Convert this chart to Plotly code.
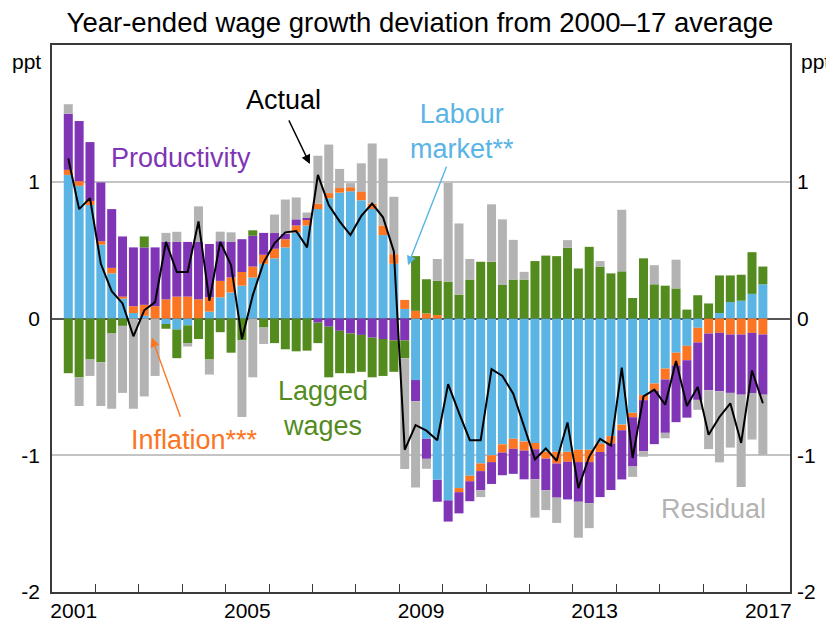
import plotly.graph_objects as go

# ---------------- data (quarterly, 2001Q2 .. 2017Q2) ----------------
quarters = [f"{y}Q{q}" for y in range(2001, 2018) for q in range(1, 5)][1:66]

labour_market = [1.05, 0.97, 0.83, 0.54, 0.33, 0.145, 0.04, 0.02, 0.0, -0.04,
                 -0.08, -0.05, 0.0, 0.05, 0.155, 0.19, 0.24, 0.30, 0.40, 0.44,
                 0.52, 0.63, 0.68, 0.80, 0.88, 0.92, 0.93, 0.865, 0.80, 0.61,
                 0.40, 0.07, -0.45, -0.88, -1.18, -1.33, -1.24, -1.15, -1.06, -1.00,
                 -0.92, -0.88, -0.90, -0.91, -0.975, -0.975, -0.975, -0.96, -0.96, -0.915,
                 -0.86, -0.776, -0.69, -0.56, -0.475, -0.366, -0.25, -0.20, -0.068, 0.0,
                 0.04, 0.12, 0.13, 0.18, 0.25]

inflation = [0.037, 0.034, 0.03, 0.025, 0.04, 0.015, 0.05, 0.08, 0.09, 0.14,
             0.16, 0.16, 0.14, 0.105, 0.12, 0.11, 0.10, 0.08, 0.066, 0.07,
             0.06, 0.05, 0.045, 0.04, 0.037, 0.034, 0.03, 0.06, 0.04, 0.07,
             0.07, 0.066, 0.056, 0.037, 0.025, 0.0, -0.03, -0.04, -0.056, -0.05,
             -0.06, -0.073, -0.066, -0.046, -0.05, -0.085, -0.073, -0.09, -0.09, -0.061,
             -0.054, -0.041, -0.032, -0.037, -0.054, -0.08, -0.093, -0.105, -0.107, -0.11,
             -0.105, -0.117, -0.117, -0.105, -0.117]

productivity = [0.41, 0.44, 0.43, 0.43, 0.43, 0.44, 0.43, 0.42, 0.43, 0.42,
                0.40, 0.40, 0.42, 0.39, 0.29, 0.26, 0.24, 0.225, 0.16, 0.115,
                0.04, 0.045, 0.01, -0.03, -0.06, -0.09, -0.11, -0.12, -0.14, -0.15,
                -0.16, -0.16, -0.155, -0.146, -0.16, -0.155, -0.155, -0.146, -0.14, -0.16,
                -0.166, -0.183, -0.21, -0.22, -0.23, -0.25, -0.275, -0.29, -0.30, -0.33,
                -0.34, -0.36, -0.36, -0.373, -0.39, -0.39, -0.415, -0.42, -0.42, -0.415,
                -0.427, -0.427, -0.44, -0.44, -0.44]

lagged_wages = [-0.40, -0.43, -0.30, -0.32, -0.11, -0.054, 0.0, 0.08, 0.0, -0.035,
                -0.21, -0.13, -0.15, -0.30, -0.10, -0.25, -0.16, 0.04, -0.066, -0.18,
                -0.225, -0.24, -0.235, -0.15, -0.37, -0.31, -0.29, -0.27, -0.29, -0.27,
                -0.23, -0.13, 0.40, 0.25, 0.25, 0.27, 0.175, 0.285, 0.415, 0.415,
                0.245, 0.285, 0.285, 0.42, 0.46, 0.456, 0.517, 0.366, 0.524, 0.38,
                0.33, 0.345, 0.15, 0.44, 0.25, 0.24, 0.22, 0.065, 0.17, 0.11,
                0.275, 0.195, 0.19, 0.305, 0.13]

residual = [0.07, -0.21, -0.12, -0.32, -0.55, -0.49, -0.66, -0.57, -0.42, 0.066,
            0.074, -0.025, 0.26, -0.11, 0.07, 0.07, -0.56, -0.43, -0.12, 0.135,
            0.25, 0.16, 0.04, 0.35, 0.355, 0.14, 0.03, 0.21, 0.44, 0.49,
            0.42, -0.81, -0.63, -0.073, 0.16, 0.72, 0.52, 0.15, -0.05, 0.42,
            0.48, 0.29, 0.056, -0.28, -0.146, -0.185, 0.056, -0.263, -0.183, 0.04,
            0.0, 0.45, -0.076, -0.041, 0.14, -0.04, 0.21, 0.0, -0.073, -0.43,
            -0.52, -0.40, -0.675, -0.34, -0.44]

actual = [1.17, 0.80, 0.88, 0.40, 0.20, 0.11, -0.13, 0.06, 0.12, 0.56,
          0.34, 0.34, 0.71, 0.13, 0.56, 0.39, -0.15, 0.17, 0.41, 0.55,
          0.63, 0.64, 0.52, 1.05, 0.83, 0.71, 0.61, 0.75, 0.84, 0.74,
          0.49, -0.96, -0.78, -0.82, -0.89, -0.48, -0.69, -0.89, -0.89, -0.37,
          -0.42, -0.55, -0.79, -1.03, -0.95, -1.04, -0.76, -1.24, -1.01, -0.88,
          -0.93, -0.36, -1.02, -0.57, -0.52, -0.63, -0.31, -0.64, -0.50, -0.85,
          -0.72, -0.62, -0.91, -0.38, -0.62]

year_labels = ["2001", "2005", "2009", "2013", "2017"]
year_ticks = list(range(2002, 2018))
y_ticks = [-2, -1, 0, 1]
title_text = "Year-ended wage growth deviation from 2000\u201317 average"

# ---------------- styling ----------------
FONT = "Liberation Sans, Arial, sans-serif"
C_BLUE = "#5ab4e4"
C_ORANGE = "#fb7522"
C_PURPLE = "#7f35b5"
C_GREEN = "#538b1e"
C_GREY = "#b3b3b3"
AX = "#3a3a3a"
TICK_SIZE = 21
LABEL_SIZE = 27

# quarter centre positions on a numeric year axis
xpos = [int(q[:4]) + (int(q[-1]) - 0.5) / 4 for q in quarters]

fig = go.Figure()
series = [("Labour market", labour_market, C_BLUE),
          ("Inflation", inflation, C_ORANGE),
          ("Productivity", productivity, C_PURPLE),
          ("Lagged wages", lagged_wages, C_GREEN),
          ("Residual", residual, C_GREY)]
for name, vals, col in series:
    fig.add_trace(go.Bar(x=xpos, y=vals, name=name,
                         marker=dict(color=col, line=dict(width=0)), showlegend=False))
fig.add_trace(go.Scatter(x=xpos, y=actual, mode="lines", name="Actual",
                         line=dict(color="black", width=2), showlegend=False))
# invisible trace to carry the labelling axes (year labels, right-hand scale)
fig.add_trace(go.Scatter(x=[xpos[0]], y=[0], xaxis="x2", yaxis="y2", mode="markers",
                         marker=dict(opacity=0), showlegend=False, hoverinfo="skip"))

# the page body adds an 8px offset, so margins are shifted to compensate
fig.update_layout(
    width=834, height=628,
    margin=dict(l=44, r=52, t=37, b=44, autoexpand=False),
    paper_bgcolor="white", plot_bgcolor="white",
    barmode="relative", bargap=0.17,
    font=dict(family=FONT, size=TICK_SIZE, color="black"),
    title=dict(text=title_text, x=0.494, xref="container", xanchor="center",
               y=0.977, yref="container", yanchor="middle",
               font=dict(family=FONT, size=27.5, color="black")),
    xaxis=dict(range=[2001, 2018], tickmode="array", tickvals=year_ticks,
               showticklabels=False, ticks="inside", ticklen=8, tickcolor=AX, tickwidth=1,
               showgrid=False, zeroline=False,
               showline=True, linecolor=AX, linewidth=1.5, mirror=True),
    xaxis2=dict(range=[2001, 2018], overlaying="x", side="bottom", tickmode="array",
                tickvals=[int(y) + 0.5 for y in year_labels], ticktext=year_labels,
                ticks="", showgrid=False, zeroline=False, showline=False,
                ticklabelstandoff=4, tickfont=dict(size=TICK_SIZE)),
    yaxis=dict(range=[-2, 2], tickmode="array", tickvals=y_ticks,
               ticktext=[str(v) for v in y_ticks], ticks="",
               showgrid=True, gridcolor="#c4c4c4", gridwidth=1.6,
               zeroline=True, zerolinecolor="#555555", zerolinewidth=1.6,
               showline=True, linecolor=AX, linewidth=1.5, mirror=True,
               tickfont=dict(size=TICK_SIZE), ticklabelstandoff=6),
    yaxis2=dict(range=[-2, 2], overlaying="y", side="right", tickmode="array",
                tickvals=y_ticks, ticktext=[str(v) for v in y_ticks], ticks="",
                showgrid=False, zeroline=False, showline=False,
                tickfont=dict(size=TICK_SIZE), ticklabelstandoff=6),
)

ann = []
# unit labels
ann.append(dict(text="ppt", xref="paper", yref="paper", x=-0.034, y=0.97,
                showarrow=False, font=dict(size=TICK_SIZE), xanchor="center", yanchor="middle"))
ann.append(dict(text="ppt", xref="paper", yref="paper", x=1.034, y=0.97,
                showarrow=False, font=dict(size=TICK_SIZE), xanchor="center", yanchor="middle"))

def label(text, x, y, color):
    ann.append(dict(text=text, x=x, y=y, xref="x", yref="y", showarrow=False,
                    font=dict(size=LABEL_SIZE, color=color, family=FONT),
                    xanchor="center", yanchor="middle", align="center"))

def arrow(x0, y0, x1, y1, color):
    ann.append(dict(text="", x=x1, y=y1, ax=x0, ay=y0, xref="x", yref="y",
                    axref="x", ayref="y", showarrow=True, arrowhead=2,
                    arrowsize=1.3, arrowwidth=1.4, arrowcolor=color))

label("Productivity", 2003.97, 1.175, C_PURPLE)
label("Actual", 2006.34, 1.60, "black")
arrow(2006.44, 1.46, 2006.94, 1.13, "black")
label("Labour<br>market**", 2010.44, 1.365, C_BLUE)
arrow(2010.10, 1.12, 2009.2, 0.39, C_BLUE)
label("Inflation***", 2004.28, -0.89, C_ORANGE)
arrow(2003.97, -0.73, 2003.30, -0.14, C_ORANGE)
label("Lagged<br>wages", 2007.24, -0.66, C_GREEN)
label("Residual", 2016.23, -1.39, C_GREY)

fig.update_layout(annotations=ann)
fig.write_html("out.html")
